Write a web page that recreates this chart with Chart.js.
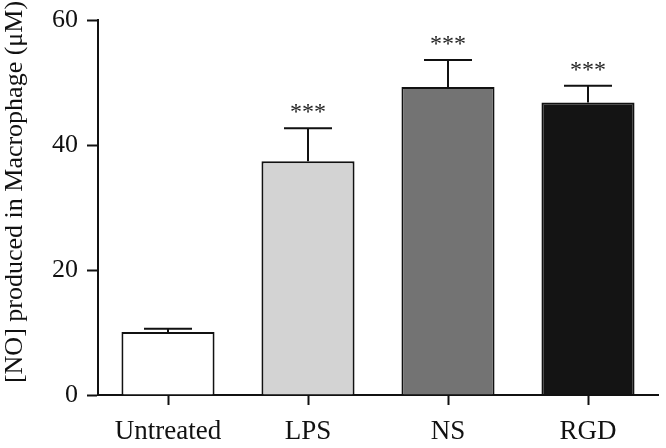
<!DOCTYPE html>
<html lang="en">
<head>
    <meta charset="UTF-8">
    <title>NO produced in Macrophage</title>
    <script src="https://cdn.jsdelivr.net/npm/chart.js"></script>
    <style>
        body { margin: 0; background: #fff; }
        #wrap { width: 666px; height: 448px; }
    </style>
</head>
<body>
    <div id="wrap"><canvas id="grafico" width="666" height="448"></canvas></div>

    <script>
        const categorie = ['Untreated', 'LPS', 'NS', 'RGD'];
        const medie = [10.1, 37.4, 49.3, 46.8];
        const errori = [0.5, 5.3, 4.3, 2.7];
        const stelle = ['', '***', '***', '***'];
        const colori = ['#ffffff', '#d3d3d3', '#737373', '#141414'];
        const yTicks = [0, 20, 40, 60];
        const titoloY = '[NO] produced in Macrophage (μM)';

        const serif = "'Liberation Serif', 'Times New Roman', serif";

        // barre di errore + asterischi + titolo asse y
        const erroriPlugin = {
            id: 'erroriPlugin',
            afterDatasetsDraw(chart) {
                const ctx = chart.ctx;
                const x = chart.scales.x;
                const y = chart.scales.y;
                ctx.save();
                ctx.strokeStyle = '#111';
                ctx.lineWidth = 2;
                medie.forEach((m, i) => {
                    const cx = x.getPixelForValue(i);
                    const y0 = y.getPixelForValue(m);
                    const y1 = y.getPixelForValue(m + errori[i]);
                    ctx.beginPath();
                    ctx.moveTo(cx, y0);
                    ctx.lineTo(cx, y1);
                    ctx.moveTo(cx - 24, y1);
                    ctx.lineTo(cx + 24, y1);
                    ctx.stroke();
                    if (stelle[i]) {
                        ctx.fillStyle = '#222';
                        ctx.font = '24px ' + serif;
                        ctx.textAlign = 'center';
                        ctx.textBaseline = 'alphabetic';
                        ctx.fillText(stelle[i], cx, y1 - 9);
                    }
                });

                // titolo verticale (un po' sopra il centro, come nell'originale)
                ctx.translate(15, 192);
                ctx.rotate(-Math.PI / 2);
                ctx.fillStyle = '#111';
                ctx.font = '26px ' + serif;
                ctx.textAlign = 'center';
                ctx.textBaseline = 'middle';
                ctx.fillText(titoloY, 0, 0);
                ctx.restore();
            }
        };

        const ctx = document.getElementById('grafico').getContext('2d');
        new Chart(ctx, {
            type: 'bar',
            data: {
                labels: categorie,
                datasets: [{
                    data: medie,
                    backgroundColor: colori,
                    borderColor: '#111',
                    borderWidth: 2,
                    barPercentage: 0.665,
                    categoryPercentage: 1
                }]
            },
            options: {
                responsive: false,
                animation: false,
                layout: { padding: { top: 20, right: 8, left: 0, bottom: 0 } },
                plugins: { legend: { display: false }, tooltip: { enabled: false } },
                scales: {
                    x: {
                        afterFit(s) { s.height = 53; s.paddingTop = 0; s.paddingBottom = 0; },
                        grid: { offset: false, drawOnChartArea: false, tickLength: 10, tickColor: '#111', tickWidth: 2 },
                        border: { color: '#111', width: 2 },
                        ticks: { color: '#111', font: { family: serif, size: 27 }, padding: 11, maxRotation: 0 }
                    },
                    y: {
                        min: 0,
                        max: 60,
                        afterFit(s) { s.width = 98; s.paddingTop = 0; s.paddingBottom = 0; },
                        afterBuildTicks(s) { s.ticks = yTicks.map(v => ({ value: v })); },
                        grid: { drawOnChartArea: false, tickLength: 11, tickColor: '#111', tickWidth: 2 },
                        border: { color: '#111', width: 2 },
                        ticks: { color: '#111', font: { family: serif, size: 26 }, padding: 9 }
                    }
                }
            },
            plugins: [erroriPlugin]
        });
    </script>
</body>
</html>
